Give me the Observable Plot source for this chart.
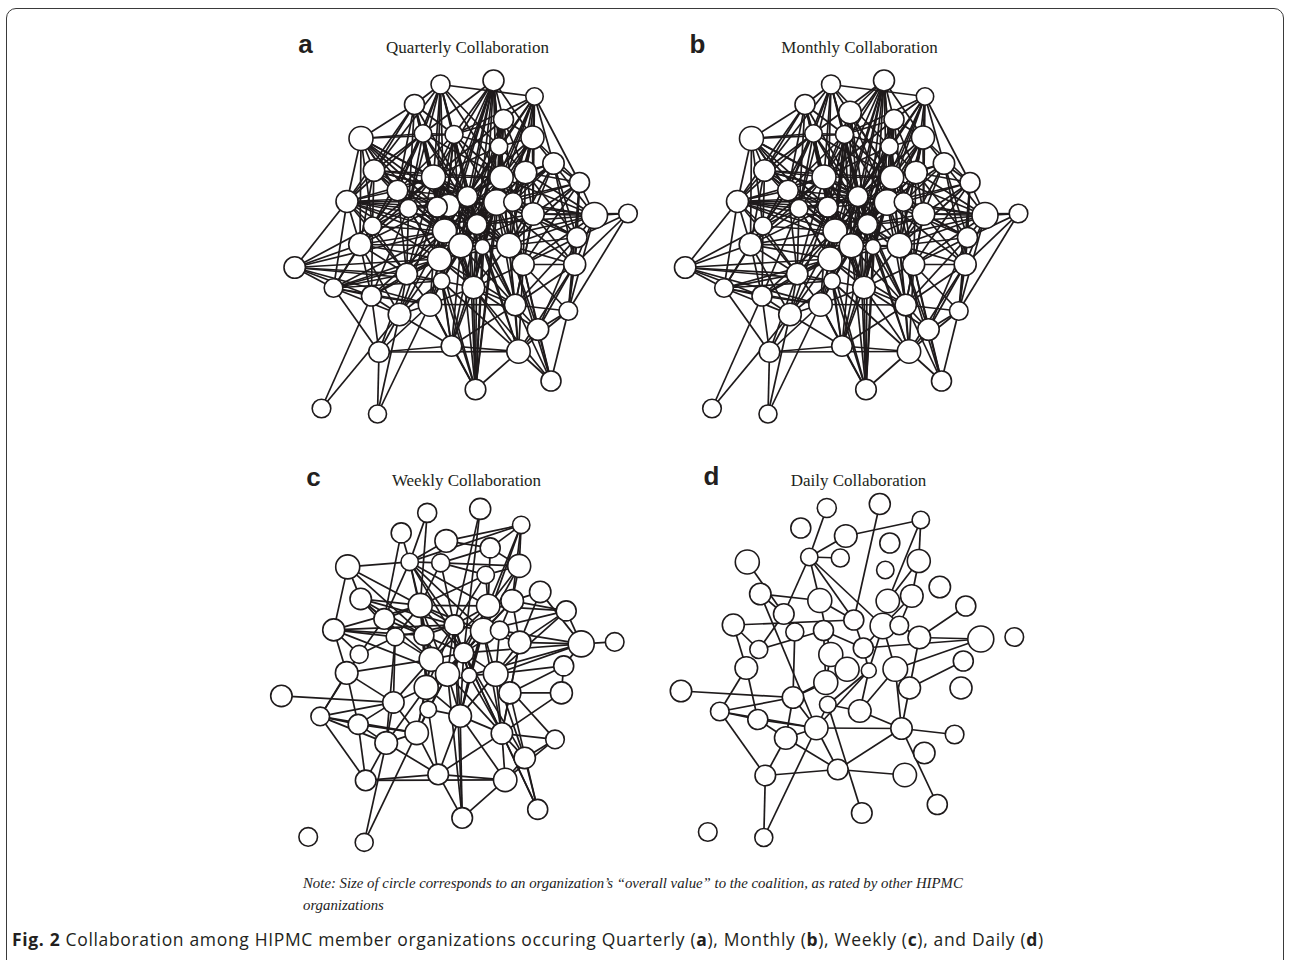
<!DOCTYPE html>
<html>
<head>
<meta charset="utf-8">
<script src="https://cdn.jsdelivr.net/npm/d3@7"></script>
<script src="https://cdn.jsdelivr.net/npm/@observablehq/plot@0.6"></script>
<style>
  html, body { margin: 0; padding: 0; background: #fff; width: 1290px; height: 960px; overflow: hidden; }
  #frame { position: absolute; left: 6px; top: 8px; width: 1276px; height: 1000px; border: 1.5px solid #3a3a3a; border-radius: 10px; }
  #chart { position: absolute; left: 0; top: 0; }
  #note { position: absolute; left: 303px; top: 872px; font-family: "Liberation Serif", "DejaVu Serif", serif; font-style: italic; font-size: 14.8px; line-height: 22px; color: #222; }
  #caption { position: absolute; left: 12px; top: 927px; font-family: "Open Sans", sans-serif; font-size: 17.5px; color: #231f20; letter-spacing: 0.66px; }
  #caption b { font-weight: 700; }
</style>
</head>
<body>
<div id="frame"></div>
<div id="chart"></div>
<div id="note">Note: Size of circle corresponds to an organization’s “overall value” to the coalition, as rated by other HIPMC<br>organizations</div>
<div id="caption"><b>Fig. 2</b> Collaboration among HIPMC member organizations occuring Quarterly (<b>a</b>), Monthly (<b>b</b>), Weekly (<b>c</b>), and Daily (<b>d</b>)</div>
<script>
// ---------- DATA ----------
// node layout (in panel-a frame), node ids 1..56
const nodeX = [440,493,534,414,503,422.5,453.5,360.5,532,498.5,373.5,553,433,501,525,579,397,346.5,408,436.7,459,467,496,512.5,532.5,594,627.5,476.5,444,372,359.5,576.5,460.3,482,508.5,294.2,439,522.7,574.2,406.2,333,441,473,371,429.5,514.7,567.8,399,537.5,451,378.5,518,550.5,475,321,377];
const nodeY = [84,80,96,104,119,133,134,138,137,146,170,163,176.5,177,172,182,190,201,208,206.5,112,196,202,201.5,213.5,215,213,224,230.5,225.5,244,237,245.3,246.5,245,267,258.5,264,264,273.5,287.5,280.5,287,295.5,304,304.5,310.5,314,329,345.5,351.5,351,380.5,389,408,413.5];
// "overall value" (circle size)
const nodeValue = [9.5,10.5,8.7,10,10,8.7,9,12,11.5,8.7,10.7,10.7,12,11.7,11.3,10,10.3,11,9,10,11.3,10,12.7,9.3,11.3,13,9.3,10,12,9,11.3,10,12,7.5,12.3,10.7,12,11,11,10.7,9.3,8.3,11.3,10,11.7,10.7,9.3,11.3,10.7,10.3,10.3,11.7,10,10.3,9.3,9];

const panelKey = ["a", "b", "c", "d"];
const panelTitle = ["Quarterly Collaboration", "Monthly Collaboration", "Weekly Collaboration", "Daily Collaboration"];

// collaboration ties (adjacency lists)
const edgesMonthly = [
  "1:3,4,6,7,10,11,13,17,19,20,22,28,14",
  "2:5,6,7,9,10,13,14,20,22,23,28,29,33,21,37,54",
  "3:9,12,14,15,16,5,7,10,22,23,25,28",
  "4:6,7,8,11,13,17,18,20,22,29,19",
  "5:7,9,10,13,14,22,23,28,33,15,24",
  "6:7,8,11,13,17,18,19,20,22,28,29,14,30",
  "7:8,10,13,14,20,22,23,28,29,33,17,37",
  "8:11,13,17,18,19,20,30,31,22,29",
  "9:10,12,14,15,16,22,23,25,28,24,35",
  "10:13,14,22,23,28,29,33,15,24,35",
  "11:13,17,18,19,20,22,29,30,14,31,23",
  "12:14,15,16,23,25,26,32,24,35,39",
  "13:14,17,19,20,22,23,28,29,33,37,30,31,40,34,43",
  "14:15,20,22,23,24,25,28,29,33,34,35,37,43,38,26",
  "15:16,23,24,25,26,28,35,32,38",
  "16:23,25,26,32,35,39,24,38,47",
  "17:19,20,22,29,30,31,18,40,37",
  "18:19,20,22,23,28,29,30,31,33,41,36,13,40",
  "19:20,22,29,30,31,33,37,40,44",
  "20:22,23,28,29,33,34,37,40,42,43,45,31,48",
  "21:22,23,28,29,33,13,14,20,37",
  "22:23,28,29,33,34,35,37,42,43,45,46,24,54",
  "23:24,25,28,29,33,34,35,37,38,43,46,26,32,39",
  "24:25,28,35,38,26,32",
  "25:26,28,32,35,38,39,46,33",
  "26:27,32,35,38,39,28,33,47",
  "27:32,39,25,47",
  "28:29,33,34,35,37,42,43,46,38,50,52,54",
  "29:31,33,37,40,42,43,44,45,30,48",
  "30:31,36,41,40,44",
  "31:36,37,40,41,44,33,48",
  "32:35,38,39,46,47,49",
  "33:34,35,37,42,43,45,46,50,54,40",
  "34:35,37,43,46,50,52,54",
  "35:38,39,43,46,49,52,53,37",
  "36:37,40,41,42,45,44",
  "37:40,42,43,44,45,48,50,46,54",
  "38:39,43,46,47,49,52,53",
  "39:46,47,49,52",
  "40:41,44,45,48,42,51",
  "41:44,45,48,51,42,37",
  "42:43,45,48,50,54,52",
  "43:45,46,50,52,54,49",
  "44:45,48,51,55",
  "45:48,50,51,56,46,54",
  "46:49,50,52,53,47",
  "47:49,52,53",
  "48:51,55,56,50",
  "49:52,53",
  "50:51,52,54",
  "51:52,56",
  "52:53,54"
];
// quarterly = monthly ties plus these
const edgesQuarterlyExtra = [
  "13:35,38", "2:35", "1:29", "8:28", "18:37", "36:29", "41:29,33", "54:23,14", "53:43", "3:24", "12:28"
];
const edgesWeekly = [
  "1:6,13", "2:22,28", "3:6,5,9,14,15,23,21", "4:17,6", "5:7,9,14,21",
  "6:7,8,13,21,22,23,28,29,17,14", "7:9,10,13,22", "8:6,13,18,11,20",
  "9:10,14,15,23", "10:13,22,14", "11:13,17,19,20,22,29", "12:25,26,15",
  "13:14,17,19,20,22,23,28,29,18,33,37", "14:15,22,23,28,29,33,34,16,43",
  "15:16,23,24,25,28", "16:23,25,26,35,14", "17:19,30,20", "18:13,20,22,30,31,19,33",
  "19:22,29,30,40,48", "20:22,28,29,33,37,42", "22:23,28,29,33,34,37,43,54",
  "23:24,28,34,35,43,46,25,33", "24:25,28,35", "25:26,35,38,46", "26:27,35,32,24,28,34",
  "28:29,33,34,35,37,43,46,49,53", "29:33,37,40,45,31", "30:31,41", "31:41,44,40",
  "32:38,35,39", "33:37,43,46,42,54,45", "34:43,46,35,37", "35:38,43,46,49,47", "36:40",
  "37:42,43,45,40,48", "38:46,39,53", "39:46", "40:41,44,48,45", "41:44,48,51,45", "42:43,45,50",
  "43:46,50,52,54", "44:48,51,45", "45:48,50,56", "46:50,52,49,53,47", "47:49,52",
  "48:50,51,56", "49:52,53", "50:51,52,54", "51:52", "52:54"
];
const edgesDaily = [
  "1:6", "2:22", "3:21,9,14", "6:7,21,17,13,22,23", "8:17", "11:13,45,17", "13:22,29",
  "9:14,15", "14:15,23", "15:24,23", "16:25", "17:30,19", "18:22,30,31", "19:40",
  "20:30,28,37", "22:28", "23:24,28,34,35", "24:25", "25:26,38", "26:35,28", "28:34",
  "29:37", "32:38", "33:40,37", "36:40", "37:40", "40:41,45,48", "41:44,51,31,45",
  "42:43,34,54,45", "43:34,35,46", "44:48,31,45", "45:48,50,56,34,46", "46:47,50,38,35,53",
  "48:51,50", "50:52,51", "51:56"
];

// ---------- LAYOUT ----------
const layout = {
  dx: [0, 390.5, -13.3, 386.3],
  dy: [0, 0, 428.4, 423.5],
  letterX: [305, 697, 313, 711], letterY: [44, 44, 477, 476],
  titleX: [467, 859, 466, 858], titleY: [47, 47, 480, 480],
  // in panel a, node 21 sits inside the core
  moved: [{panel: 0, id: 21, x: 448, y: 205}]
};

function parseAdj(list) {
  const out = [], seen = new Set();
  for (const s of list) {
    const [a, rest] = s.split(":");
    for (const b of rest.split(",")) {
      const i = +a, j = +b;
      const k = Math.min(i, j) + "-" + Math.max(i, j);
      if (i !== j && !seen.has(k)) { seen.add(k); out.push([i, j]); }
    }
  }
  return out;
}

const panelEdges = [
  parseAdj(edgesMonthly.concat(edgesQuarterlyExtra)),
  parseAdj(edgesMonthly),
  parseAdj(edgesWeekly),
  parseAdj(edgesDaily)
];

const nodes = [], links = [];
panelKey.forEach((p, pi) => {
  const pos = nodeX.map((x, i) => {
    const m = layout.moved.find(d => d.panel === pi && d.id === i + 1);
    return m ? [m.x, m.y] : [x, nodeY[i]];
  });
  pos.forEach(([x, y], i) => nodes.push({panel: p, id: i + 1, x: x + layout.dx[pi], y: y + layout.dy[pi], v: nodeValue[i]}));
  for (const [i, j] of panelEdges[pi]) {
    links.push({panel: p, x1: pos[i - 1][0] + layout.dx[pi], y1: pos[i - 1][1] + layout.dy[pi], x2: pos[j - 1][0] + layout.dx[pi], y2: pos[j - 1][1] + layout.dy[pi]});
  }
});
const panels = panelKey.map((k, i) => ({k, title: panelTitle[i], lx: layout.letterX[i], ly: layout.letterY[i], tx: layout.titleX[i], ty: layout.titleY[i]}));

const W = 1290, H = 870;
const chart = Plot.plot({
  width: W, height: H, margin: 0,
  style: {background: "transparent"},
  x: {domain: [0, W], range: [0, W], axis: null},
  y: {domain: [0, H], range: [0, H], axis: null},
  r: {type: "linear", domain: [0, 20], range: [0, 20]},
  marks: [
    Plot.link(links, {x1: "x1", y1: "y1", x2: "x2", y2: "y2", stroke: "#1e1a1b", strokeWidth: 1.7}),
    Plot.dot(nodes, {x: "x", y: "y", r: "v", fill: "white", stroke: "#1e1a1b", strokeWidth: 1.6}),
    Plot.text(panels, {x: "lx", y: "ly", text: "k", fontFamily: "Liberation Sans, Arial, sans-serif", fontWeight: "bold", fontSize: 26, fill: "#231f20"}),
    Plot.text(panels, {x: "tx", y: "ty", text: "title", fontFamily: "Liberation Serif, serif", fontSize: 17, fill: "#231f20"})
  ]
});
document.getElementById("chart").appendChild(chart);
</script>
</body>
</html>
